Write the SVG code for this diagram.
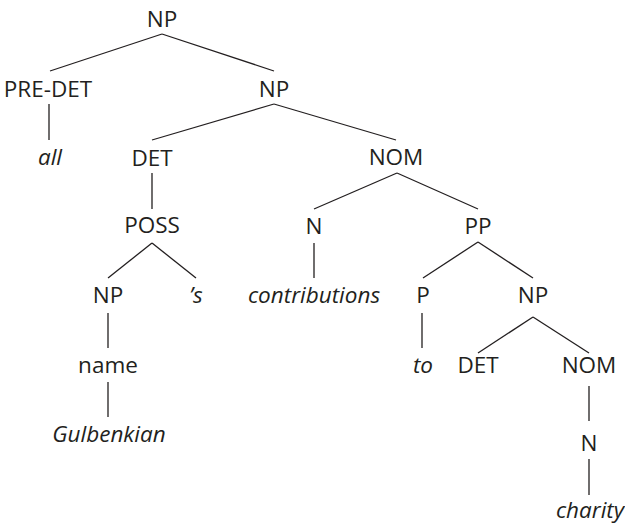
<svg xmlns="http://www.w3.org/2000/svg" width="625" height="526" viewBox="0 0 625 526">
<style>
text{font-family:"Open Sans","Liberation Sans",sans-serif;font-size:22.5px;fill:#231f20;text-anchor:middle}
.w{font-style:italic}
#edges line{stroke:#231f20;stroke-width:1.3;fill:none}
</style>
<rect width="625" height="526" fill="#fff"/>
<g id="edges">
<line x1="162" y1="34" x2="50" y2="71"/>
<line x1="162" y1="34" x2="274" y2="71"/>
<line x1="49" y1="104" x2="49" y2="140"/>
<line x1="274" y1="104" x2="152" y2="140"/>
<line x1="274" y1="104" x2="396" y2="140"/>
<line x1="152" y1="173" x2="152" y2="209"/>
<line x1="152" y1="243" x2="108" y2="278"/>
<line x1="152" y1="243" x2="196" y2="278"/>
<line x1="108" y1="313" x2="108" y2="348"/>
<line x1="108" y1="382" x2="108" y2="417"/>
<line x1="397" y1="173" x2="314" y2="209"/>
<line x1="397" y1="173" x2="478" y2="209"/>
<line x1="314" y1="243" x2="314" y2="278"/>
<line x1="478" y1="242" x2="423" y2="278"/>
<line x1="478" y1="242" x2="533" y2="278"/>
<line x1="422" y1="313" x2="422" y2="348"/>
<line x1="533" y1="317" x2="478" y2="353"/>
<line x1="533" y1="317" x2="589" y2="353"/>
<line x1="589" y1="386" x2="589" y2="421"/>
<line x1="589" y1="459" x2="589" y2="495"/>
</g>
<g id="np1"><text x="162" y="27">NP</text></g>
<g id="predet"><text x="48" y="97">PRE-DET</text></g>
<g id="all"><text class="w" x="50" y="165">all</text></g>
<g id="np2"><text x="274" y="97">NP</text></g>
<g id="det1"><text x="152" y="166">DET</text></g>
<g id="nom1"><text x="396" y="165">NOM</text></g>
<g id="poss"><text x="152" y="233">POSS</text></g>
<g id="np3"><text x="108" y="303">NP</text></g>
<g id="s"><text class="w" x="196" y="303">’s</text></g>
<g id="name"><text x="108" y="373">name</text></g>
<g id="gulbenkian"><text class="w" x="109" y="442">Gulbenkian</text></g>
<g id="n1"><text x="314" y="234">N</text></g>
<g id="contributions"><text class="w" x="314" y="303">contributions</text></g>
<g id="pp"><text x="478" y="234">PP</text></g>
<g id="p"><text x="423" y="303">P</text></g>
<g id="to"><text class="w" x="423" y="373">to</text></g>
<g id="np4"><text x="533" y="303">NP</text></g>
<g id="det2"><text x="478" y="373">DET</text></g>
<g id="nom2"><text x="589" y="373">NOM</text></g>
<g id="n2"><text x="589" y="451">N</text></g>
<g id="charity"><text class="w" x="590" y="518">charity</text></g>
</svg>
